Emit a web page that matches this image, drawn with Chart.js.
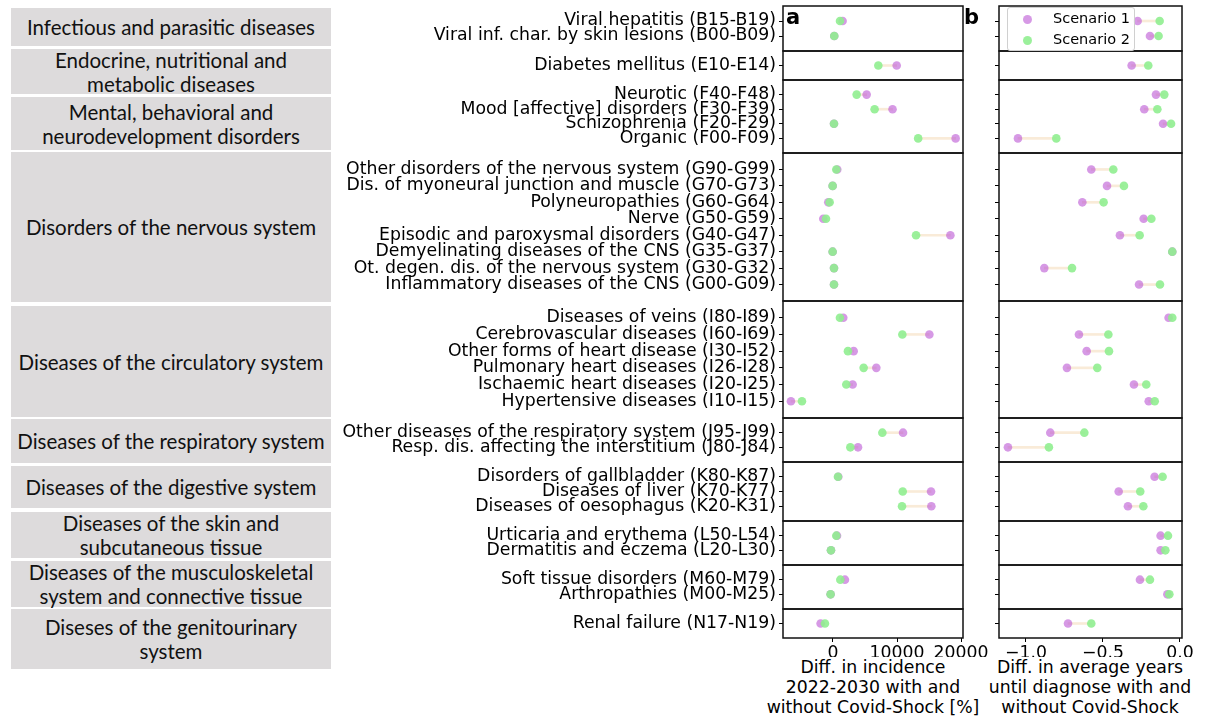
<!DOCTYPE html>
<html><head><meta charset="utf-8">
<script src="https://cdn.jsdelivr.net/npm/chart.js@4"></script>
<style>
body{margin:0;background:#fff;width:1205px;height:717px;overflow:hidden;position:relative;font-family:'DejaVu Sans',sans-serif;}
canvas{position:absolute;}
.grp{position:absolute;left:11px;width:320px;background:#dddbdc;display:flex;align-items:center;justify-content:center;text-align:center;font-family:Lato,'Open Sans',sans-serif;font-size:20.5px;line-height:24px;color:#111;white-space:pre-line;}
.letter{position:absolute;font-family:'DejaVu Sans';font-weight:bold;font-size:21px;color:#000;z-index:5;}
#legend{position:absolute;left:1007px;top:7px;width:126px;height:42px;border:1px solid #d0d0d0;border-radius:3px;background:rgba(255,255,255,0.85);z-index:6;font-family:'DejaVu Sans';font-size:14.5px;color:#000;}
.li{position:absolute;left:0;width:126px;height:20px;}
.dot{position:absolute;left:15px;top:6px;width:9px;height:9px;border-radius:50%;}
.lt{position:absolute;left:45px;top:1px;}
.xtitle{position:absolute;top:657px;width:260px;text-align:center;font-family:'DejaVu Sans';font-size:17.3px;line-height:20px;color:#000;white-space:pre-line;}
</style></head>
<body>
<div class="letter" style="left:786px;top:5px;">a</div>
<div class="letter" style="left:964px;top:5px;">b</div>
<div id="legend"></div>
<script>
// ---------------- DATA ----------------
const groupNames = [
  "Infectious and parasitic diseases",
  "Endocrine, nutritional and\nmetabolic diseases",
  "Mental, behavioral and\nneurodevelopment disorders",
  "Disorders of the nervous system",
  "Diseases of the circulatory system",
  "Diseases of the respiratory system",
  "Diseases of the digestive system",
  "Diseases of the skin and\nsubcutaneous tissue",
  "Diseases of the musculoskeletal\nsystem and connective tissue",
  "Diseses of the genitourinary\nsystem"
];
const categories = [
  "Viral hepatitis (B15-B19)", "Viral inf. char. by skin lesions (B00-B09)",
  "Diabetes mellitus (E10-E14)",
  "Neurotic (F40-F48)", "Mood [affective] disorders (F30-F39)", "Schizophrenia (F20-F29)", "Organic (F00-F09)",
  "Other disorders of the nervous system (G90-G99)", "Dis. of myoneural junction and muscle (G70-G73)",
  "Polyneuropathies (G60-G64)", "Nerve (G50-G59)", "Episodic and paroxysmal disorders (G40-G47)",
  "Demyelinating diseases of the CNS (G35-G37)", "Ot. degen. dis. of the nervous system (G30-G32)",
  "Inflammatory diseases of the CNS (G00-G09)",
  "Diseases of veins (I80-I89)", "Cerebrovascular diseases (I60-I69)", "Other forms of heart disease (I30-I52)",
  "Pulmonary heart diseases (I26-I28)", "Ischaemic heart diseases (I20-I25)", "Hypertensive diseases (I10-I15)",
  "Other diseases of the respiratory system (J95-J99)", "Resp. dis. affecting the interstitium (J80-J84)",
  "Disorders of gallbladder (K80-K87)", "Diseases of liver (K70-K77)", "Diseases of oesophagus (K20-K31)",
  "Urticaria and erythema (L50-L54)", "Dermatitis and eczema (L20-L30)",
  "Soft tissue disorders (M60-M79)", "Arthropathies (M00-M25)",
  "Renal failure (N17-N19)"
];
const groupOf = [0,0, 1, 2,2,2,2, 3,3,3,3,3,3,3,3, 4,4,4,4,4,4, 5,5, 6,6,6, 7,7, 8,8, 9];
const seriesNames = ["Scenario 1", "Scenario 2"];
const incidenceS1 = [1500, 200, 9950, 5260, 9300, 160, 19150, 670, -50, -730, -1510, 18330, -50, 160, 160,
  1610, 15050, 3230, 6770, 3070, -6560, 10940, 3910, 830, 15310, 15360, 630, -310, 1870, -370, -1930];
const incidenceS2 = [1100, 200, 7080, 3700, 6500, 160, 13300, 520, -50, -520, -1090, 12970, -50, 160, 160,
  1090, 10830, 2340, 4790, 2080, -4840, 7710, 2710, 780, 10890, 10780, 520, -310, 1150, -370, -1250];
const yearsS1 = [-0.275, -0.195, -0.314, -0.156, -0.232, -0.110, -1.052, -0.576, -0.474, -0.634, -0.236, -0.390,
  -0.050, -0.881, -0.266, -0.074, -0.656, -0.606, -0.734, -0.299, -0.203, -0.842, -1.117, -0.165, -0.398, -0.338,
  -0.126, -0.126, -0.260, -0.082, -0.727];
const yearsS2 = [-0.132, -0.139, -0.206, -0.102, -0.147, -0.058, -0.803, -0.433, -0.364, -0.496, -0.186, -0.262,
  -0.050, -0.701, -0.130, -0.050, -0.465, -0.461, -0.537, -0.219, -0.164, -0.621, -0.851, -0.113, -0.258, -0.238,
  -0.078, -0.095, -0.195, -0.069, -0.576];
const ticksA = [0, 10000, 20000];
const ticksB = [-1.0, -0.5, 0.0];
const titleA = ["Diff. in incidence", "2022-2030 with and", "without Covid-Shock [%]"];
const titleB = ["Diff. in average years", "until diagnose with and", "without Covid-Shock"];

// ---------------- LAYOUT / STYLE ----------------
const plotTops = [6, 51, 80, 153, 301, 418, 462, 521, 565, 609];
const plotBottom = 638;
const boxY = [[8,46],[49,94],[97,150],[152,302],[306,417],[419,463],[466,508],[512,558],[561,607],[609,669]];
const colS1 = 'rgba(186,85,211,0.6)';
const colS2 = 'rgba(144,238,144,0.9)';
const colLine = 'rgba(245,222,190,0.6)';
const FONT = {family: 'DejaVu Sans', size: 17.3};
const panels = {
  a: {left: 330, width: 665, yW: 453, padR: 32, min: -7800, max: 20300, s1: incidenceS1, s2: incidenceS2,
      ticks: ticksA, title: titleA, fmt: v => String(v), showLabels: true},
  b: {left: 960, width: 245, yW: 39, padR: 23, min: -1.175, max: 0.013, s1: yearsS1, s2: yearsS2,
      ticks: ticksB, title: titleB, fmt: v => v.toFixed(1).replace('-', '\u2212'), showLabels: false}
};

// group boxes
groupNames.forEach((name, g) => {
  const d = document.createElement('div');
  d.className = 'grp';
  d.style.top = boxY[g][0] + 'px';
  d.style.height = (boxY[g][1] - boxY[g][0]) + 'px';
  d.textContent = name;
  document.body.appendChild(d);
});

// legend
const leg = document.getElementById('legend');
[colS1, colS2].forEach((c, i) => {
  const it = document.createElement('div');
  it.className = 'li';
  it.style.top = (i === 0 ? 1 : 22) + 'px';
  it.innerHTML = '<span class="dot" style="background:' + c + '"></span><span class="lt">' + seriesNames[i] + '</span>';
  leg.appendChild(it);
});

// axis titles (centred under each panel)
[['a', 873], ['b', 1090]].forEach(([pk, cx]) => {
  const d = document.createElement('div');
  d.className = 'xtitle';
  d.style.left = (cx - 130) + 'px';
  d.textContent = panels[pk].title.join('\n');
  document.body.appendChild(d);
});

const framePlugin = {
  id: 'frame',
  afterDraw(chart) {
    const {ctx, chartArea: a} = chart;
    ctx.save();
    ctx.strokeStyle = '#111';
    ctx.lineWidth = 1.5;
    ctx.strokeRect(a.left, a.top, a.right - a.left, a.bottom - a.top);
    ctx.restore();
  }
};

function makeChart(pk, g) {
  const P = panels[pk];
  const idx = [];
  groupOf.forEach((gg, i) => { if (gg === g) idx.push(i); });
  const labels = idx.map(i => categories[i]);
  const n = idx.length;
  const isBottom = g === plotTops.length - 1;
  const top = plotTops[g];
  const bottom = isBottom ? plotBottom : plotTops[g + 1];
  const plotH = bottom - top;
  const padT = 2;
  const canvasTop = top - padT;
  const canvasH = isBottom ? (657 - canvasTop) : (plotH + 4);
  const cv = document.createElement('canvas');
  cv.width = P.width; cv.height = canvasH;
  cv.style.left = P.left + 'px'; cv.style.top = canvasTop + 'px';
  cv.style.width = P.width + 'px'; cv.style.height = canvasH + 'px';
  document.body.appendChild(cv);

  new Chart(cv, {
    type: 'scatter',
    data: {
      datasets: [
        {label: seriesNames[1], data: idx.map((i, k) => ({x: P.s2[i], y: k})), backgroundColor: colS2,
         borderWidth: 0, pointRadius: 4.3, order: 1},
        {label: seriesNames[0], data: idx.map((i, k) => ({x: P.s1[i], y: k})), backgroundColor: colS1,
         borderWidth: 0, pointRadius: 4.3, order: 2},
        {type: 'bar', indexAxis: 'y', label: 'diff', data: idx.map((i, k) => ({y: k, x: [P.s1[i], P.s2[i]]})),
         backgroundColor: colLine, barThickness: 2, borderWidth: 0, order: 3}
      ]
    },
    options: {
      responsive: false, animation: false, devicePixelRatio: 1,
      layout: {autoPadding: false, padding: {left: 0, right: P.padR, top: padT, bottom: isBottom ? 0 : 2}},
      plugins: {legend: {display: false}, tooltip: {enabled: false}},
      scales: {
        x: {
          type: 'linear', min: P.min, max: P.max, display: isBottom, offset: false,
          afterBuildTicks: s => { s.ticks = P.ticks.map(v => ({value: v})); },
          afterFit: s => { s.paddingLeft = 0; s.paddingRight = 0; if (isBottom) s.height = canvasH - padT - plotH; },
          ticks: {autoSkip: false, maxRotation: 0, padding: 1, color: '#000', font: FONT, callback: v => P.fmt(v)},
          grid: {drawOnChartArea: false, drawTicks: true, tickLength: 4, color: '#000', offset: false},
          border: {display: false},
          title: {display: false}
        },
        y: {
          type: 'linear', reverse: true, min: -1, max: n, offset: false, beginAtZero: false,
          afterBuildTicks: s => { s.ticks = labels.map((_, k) => ({value: k})); },
          afterFit: s => { s.width = P.yW; s.paddingTop = 0; s.paddingBottom = 0; },
          ticks: {autoSkip: false, padding: 3, color: '#000', font: FONT,
                  callback: (v, i) => P.showLabels ? labels[i] : ''},
          grid: {drawOnChartArea: false, drawTicks: true, tickLength: 4, color: '#000', offset: false},
          border: {display: false}
        }
      }
    },
    plugins: [framePlugin]
  });
}

for (let g = 0; g < plotTops.length; g++) { makeChart('a', g); makeChart('b', g); }
</script>
</body></html>
